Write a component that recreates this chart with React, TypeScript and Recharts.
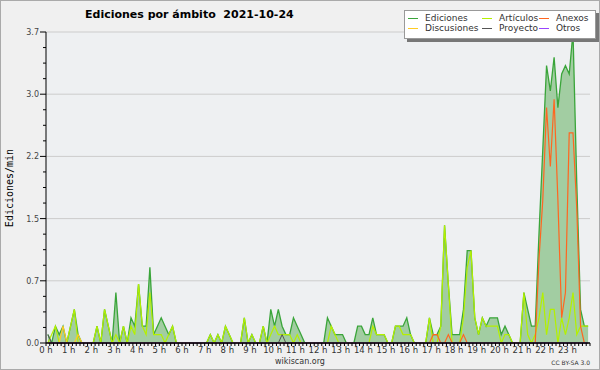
import React from "react";
import {
  ComposedChart,
  Area,
  Line,
  XAxis,
  YAxis,
  CartesianGrid,
  Legend,
} from "recharts";

// 10-minute bins, edits per minute
const hourLabels = [
  "0 h", "1 h", "2 h", "3 h", "4 h", "5 h", "6 h", "7 h", "8 h", "9 h", "10 h", "11 h",
  "12 h", "13 h", "14 h", "15 h", "16 h", "17 h", "18 h", "19 h", "20 h", "21 h", "22 h", "23 h",
];
const yLabels = ["0.0", "0.7", "1.5", "2.2", "3.0", "3.7"];
const yMax = 3.7;
const legendOrder = ["Ediciones", "Artículos", "Anexos", "Discusiones", "Proyecto", "Otros"];

const ediciones = [
  0.1, 0, 0.2, 0.1, 0.2, 0, 0.2, 0.4, 0.1, 0, 0, 0,
  0, 0.2, 0, 0.4, 0.2, 0, 0.6, 0, 0.2, 0, 0.3, 0.2,
  0.7, 0.2, 0.2, 0.9, 0.1, 0.2, 0.3, 0.2, 0.1, 0.2, 0, 0,
  0, 0, 0, 0, 0, 0, 0, 0.1, 0, 0.1, 0, 0.2,
  0.1, 0, 0, 0, 0.3, 0, 0.1, 0, 0, 0.2, 0, 0.4,
  0.2, 0.4, 0.2, 0.1, 0.1, 0.3, 0.2, 0.1, 0, 0, 0, 0,
  0, 0, 0.3, 0.2, 0.1, 0.1, 0.1, 0, 0, 0, 0.2, 0.2,
  0.1, 0.1, 0.3, 0.1, 0.1, 0.1, 0, 0, 0.2, 0.2, 0.2, 0.3,
  0.1, 0, 0, 0, 0, 0.3, 0.1, 0.1, 0.2, 1.4, 0.7, 0.1,
  0.1, 0.1, 0.4, 1.1, 1.1, 0.3, 0.1, 0.3, 0.2, 0.3, 0.3, 0.3,
  0.1, 0.2, 0.1, 0, 0, 0, 0.6, 0.4, 0.2, 0.2, 1.3, 2.3,
  3.3, 3.0, 3.4, 2.8, 3.2, 3.3, 3.2, 3.7, 1.9, 0.4, 0.2, 0.2,
];

const articulos = [
  0, 0.1, 0.2, 0, 0, 0, 0.2, 0.4, 0, 0, 0, 0,
  0, 0.2, 0, 0.4, 0.2, 0, 0.1, 0, 0.2, 0, 0.2, 0.1,
  0.7, 0.2, 0.1, 0.6, 0.1, 0.1, 0.1, 0, 0.1, 0.2, 0, 0,
  0, 0, 0, 0, 0, 0, 0, 0.1, 0, 0.1, 0, 0.2,
  0.1, 0, 0, 0, 0.3, 0, 0.1, 0, 0, 0.2, 0, 0.1,
  0.2, 0.1, 0.1, 0.1, 0.1, 0, 0.1, 0, 0, 0, 0, 0,
  0, 0, 0, 0.2, 0.1, 0, 0, 0, 0, 0, 0, 0,
  0, 0, 0.2, 0.1, 0.1, 0.1, 0, 0, 0.2, 0.2, 0.1, 0.1,
  0.1, 0, 0, 0, 0, 0.3, 0, 0, 0.2, 1.4, 0.7, 0,
  0, 0, 0.3, 0.9, 1.1, 0.3, 0.1, 0.3, 0.2, 0.2, 0.2, 0.2,
  0, 0.1, 0.1, 0, 0, 0, 0.6, 0.1, 0, 0.1, 0.3, 0.6,
  0.1, 0.4, 0.4, 0, 0.3, 0.1, 0.3, 0.6, 0.1, 0.2, 0.2, 0.2,
];

const anexos = [
  0, 0, 0, 0, 0, 0, 0, 0, 0, 0, 0, 0,
  0, 0, 0, 0, 0, 0, 0, 0, 0, 0, 0, 0,
  0, 0, 0, 0, 0, 0, 0, 0, 0, 0, 0, 0,
  0, 0, 0, 0, 0, 0, 0, 0, 0, 0, 0, 0,
  0, 0, 0, 0, 0, 0, 0, 0, 0, 0, 0, 0,
  0, 0, 0, 0, 0, 0, 0, 0, 0, 0, 0, 0,
  0, 0, 0, 0, 0, 0, 0, 0, 0, 0, 0, 0,
  0, 0, 0, 0, 0, 0, 0, 0, 0, 0, 0, 0,
  0, 0, 0, 0, 0, 0, 0.1, 0.1, 0, 0, 0.1, 0,
  0, 0, 0.1, 0, 0, 0, 0, 0, 0, 0, 0, 0,
  0, 0, 0, 0, 0, 0, 0, 0, 0, 0, 1.0, 1.7,
  2.8, 2.1, 2.9, 1.7, 0.3, 0.6, 2.5, 2.5, 1.6, 0.2, 0, 0,
];

const discusiones = [
  0, 0, 0, 0, 0.2, 0, 0, 0, 0.1, 0, 0, 0,
  0, 0, 0, 0, 0, 0, 0, 0, 0, 0, 0, 0,
  0, 0, 0, 0, 0, 0, 0, 0, 0, 0, 0, 0,
  0, 0, 0, 0, 0, 0, 0, 0, 0, 0, 0, 0,
  0, 0, 0, 0, 0, 0, 0, 0, 0, 0, 0, 0,
  0, 0, 0, 0, 0, 0, 0, 0, 0, 0, 0, 0,
  0, 0, 0, 0, 0, 0, 0, 0, 0, 0, 0, 0,
  0, 0, 0, 0, 0, 0, 0, 0, 0, 0, 0, 0,
  0, 0, 0, 0, 0, 0, 0, 0, 0, 0, 0, 0,
  0, 0, 0, 0, 0, 0, 0, 0, 0, 0, 0, 0,
  0, 0, 0, 0, 0, 0, 0, 0, 0, 0, 0, 0,
  0, 0, 0, 0, 0, 0, 0, 0, 0, 0, 0, 0,
];

const proyecto = [
  0.1, 0, 0, 0, 0, 0, 0, 0, 0, 0, 0, 0,
  0, 0, 0, 0, 0, 0, 0, 0, 0, 0, 0, 0,
  0, 0, 0, 0, 0, 0, 0, 0, 0, 0, 0, 0,
  0, 0, 0, 0, 0, 0, 0, 0, 0, 0, 0, 0,
  0, 0, 0, 0, 0, 0, 0, 0, 0, 0, 0, 0,
  0, 0, 0.1, 0, 0, 0, 0, 0, 0, 0, 0, 0,
  0, 0, 0, 0, 0, 0, 0, 0, 0, 0, 0, 0,
  0, 0, 0, 0, 0, 0, 0, 0, 0, 0, 0, 0,
  0, 0, 0, 0, 0, 0, 0, 0, 0, 0, 0, 0,
  0, 0, 0, 0, 0, 0, 0, 0, 0, 0, 0, 0,
  0, 0, 0, 0, 0, 0, 0, 0, 0, 0, 0, 0,
  0, 0, 0, 0, 0, 0, 0, 0, 0, 0, 0, 0,
];

const otros = [
  0, 0, 0, 0, 0, 0, 0, 0, 0, 0, 0, 0,
  0, 0, 0, 0, 0, 0, 0, 0, 0, 0, 0, 0,
  0, 0, 0, 0, 0, 0, 0, 0, 0, 0, 0, 0,
  0, 0, 0, 0, 0, 0, 0, 0, 0, 0, 0, 0,
  0, 0, 0, 0, 0, 0, 0, 0, 0, 0, 0, 0,
  0, 0, 0, 0, 0, 0, 0, 0, 0, 0, 0, 0,
  0, 0, 0, 0, 0, 0, 0, 0, 0, 0, 0, 0,
  0, 0, 0, 0, 0, 0, 0, 0, 0, 0, 0, 0,
  0, 0, 0, 0, 0, 0, 0, 0, 0, 0, 0, 0,
  0, 0, 0, 0, 0, 0, 0, 0, 0, 0, 0, 0,
  0, 0, 0, 0, 0, 0, 0, 0, 0, 0, 0, 0,
  0, 0, 0, 0, 0, 0, 0, 0, 0, 0, 0, 0,
];

// each bin is drawn at its centre, in hours
const data = ediciones.map((v, i) => ({
  t: (i + 0.5) / 6,
  ediciones: v,
  articulos: articulos[i],
  anexos: anexos[i],
  discusiones: discusiones[i],
  proyecto: proyecto[i],
  otros: otros[i],
}));

const xTicks = Array.from({ length: 145 }, (_, k) => k / 6);
const yTicks = Array.from({ length: 21 }, (_, k) => (yMax * k) / 20);
const gridValues = yTicks.filter((_, k) => k % 4 === 0 && k > 0);

const FONT = "DejaVu Sans";

function XTick(props: any) {
  const { x, y, payload } = props;
  const k = Math.round(payload.value * 6);
  const isHour = k % 6 === 0 && k < 144;
  return (
    <g>
      <line x1={x} x2={x} y1={y} y2={y + 3} stroke="#000" />
      {isHour && (
        <text x={x} y={y + 10} textAnchor="middle" fontSize={8.5} fill="#333" fontFamily={FONT}>
          {hourLabels[k / 6]}
        </text>
      )}
    </g>
  );
}

function YTick(props: any) {
  const { x, y, payload } = props;
  const k = Math.round((payload.value / yMax) * 20);
  const major = k % 4 === 0;
  return (
    <g>
      <line x1={x - (major ? 6 : 3)} x2={x} y1={y} y2={y} stroke="#000" />
      {major && (
        <text x={x - 7} y={y + 3} textAnchor="end" fontSize={8} fill="#444" fontFamily={FONT}>
          {yLabels[k / 4]}
        </text>
      )}
    </g>
  );
}

function LegendBox(props: any) {
  const payload = [...(props.payload || [])].sort(
    (a: any, b: any) => legendOrder.indexOf(a.value) - legendOrder.indexOf(b.value)
  );
  return (
    <div
      style={{
        width: 187,
        height: 25,
        background: "#fff",
        border: "1px solid #999",
        boxShadow: "3px 3px 0 #777",
        paddingTop: 2,
        paddingLeft: 3,
        boxSizing: "content-box",
        display: "grid",
        gridTemplateColumns: "74px 57px 56px",
        gridAutoRows: "10px",
        fontFamily: FONT,
        fontSize: 9,
        color: "#333",
      }}
    >
      {payload.map((p: any) => (
        <div key={p.value} style={{ display: "flex", alignItems: "center", whiteSpace: "nowrap", lineHeight: "10px" }}>
          <span style={{ display: "inline-block", width: 10, height: 1, background: p.color, marginRight: 7 }} />
          <span>{p.value}</span>
        </div>
      ))}
    </div>
  );
}

export default function App() {
  return (
    <div
      style={{
        position: "absolute",
        left: 0,
        top: 0,
        width: 600,
        height: 370,
        background: "#f0f0f0",
        boxShadow: "inset 0 0 0 1px #aaa",
      }}
    >
      <ComposedChart
        width={600}
        height={370}
        data={data}
        margin={{ top: 32, right: 10, left: 0, bottom: 0 }}
      >
        <CartesianGrid
          vertical={false}
          fill="#eef0f2"
          stroke="#cccccc"
          horizontalCoordinatesGenerator={({ offset }: any) =>
            gridValues.map((v) => offset.top + offset.height * (1 - v / yMax))
          }
        />
        <Area
          type="linear"
          dataKey="ediciones"
          name="Ediciones"
          stroke="#3aa53a"
          strokeWidth={1.3}
          fill="#a2cda2"
          fillOpacity={1}
          dot={false}
          activeDot={false}
          isAnimationActive={false}
        />
        <Line type="linear" dataKey="articulos" name="Artículos" stroke="#b4f000" strokeWidth={1.2} dot={false} activeDot={false} isAnimationActive={false} />
        <Line type="linear" dataKey="anexos" name="Anexos" stroke="#ff6620" strokeWidth={1.2} dot={false} activeDot={false} isAnimationActive={false} />
        <Line type="linear" dataKey="discusiones" name="Discusiones" stroke="#ffcc22" strokeWidth={1.2} dot={false} activeDot={false} isAnimationActive={false} />
        <Line type="linear" dataKey="proyecto" name="Proyecto" stroke="#555555" strokeWidth={1} dot={false} activeDot={false} isAnimationActive={false} />
        <Line type="linear" dataKey="otros" name="Otros" stroke="#9944ff" strokeWidth={1} dot={false} activeDot={false} isAnimationActive={false} />
        <XAxis
          dataKey="t"
          type="number"
          domain={[0, 24]}
          ticks={xTicks}
          interval={0}
          height={27}
          tickSize={0}
          tickMargin={0}
          tickLine={false}
          axisLine={{ stroke: "#000", strokeWidth: 1.5 }}
          tick={<XTick />}
        />
        <YAxis
          type="number"
          domain={[0, yMax]}
          ticks={yTicks}
          interval={0}
          width={46}
          tickSize={0}
          tickMargin={0}
          tickLine={false}
          axisLine={{ stroke: "#000" }}
          tick={<YTick />}
        />
        <Legend
          layout="horizontal"
          align="center"
          verticalAlign="middle"
          wrapperStyle={{ left: 404, top: 10, width: 195 }}
          content={<LegendBox />}
        />
      </ComposedChart>
      <svg
        width={600}
        height={370}
        style={{ position: "absolute", left: 0, top: 0, pointerEvents: "none" }}
      >
        <text x={85} y={18} fontFamily={FONT} fontWeight="bold" fontSize={11} fill="#000">
          {"Ediciones por ámbito\u00a0 2021-10-24"}
        </text>
        <text
          x={13}
          y={188}
          transform="rotate(-90 13 188)"
          textAnchor="middle"
          fontFamily="DejaVu Sans Mono"
          fontSize={10}
          fill="#000"
        >
          Ediciones/min
        </text>
        <text x={300} y={364} textAnchor="middle" fontFamily={FONT} fontSize={8} fill="#333">
          wikiscan.org
        </text>
        <text x={590} y={365} textAnchor="end" fontFamily={FONT} fontSize={6} fill="#333">
          CC BY-SA 3.0
        </text>
      </svg>
    </div>
  );
}
